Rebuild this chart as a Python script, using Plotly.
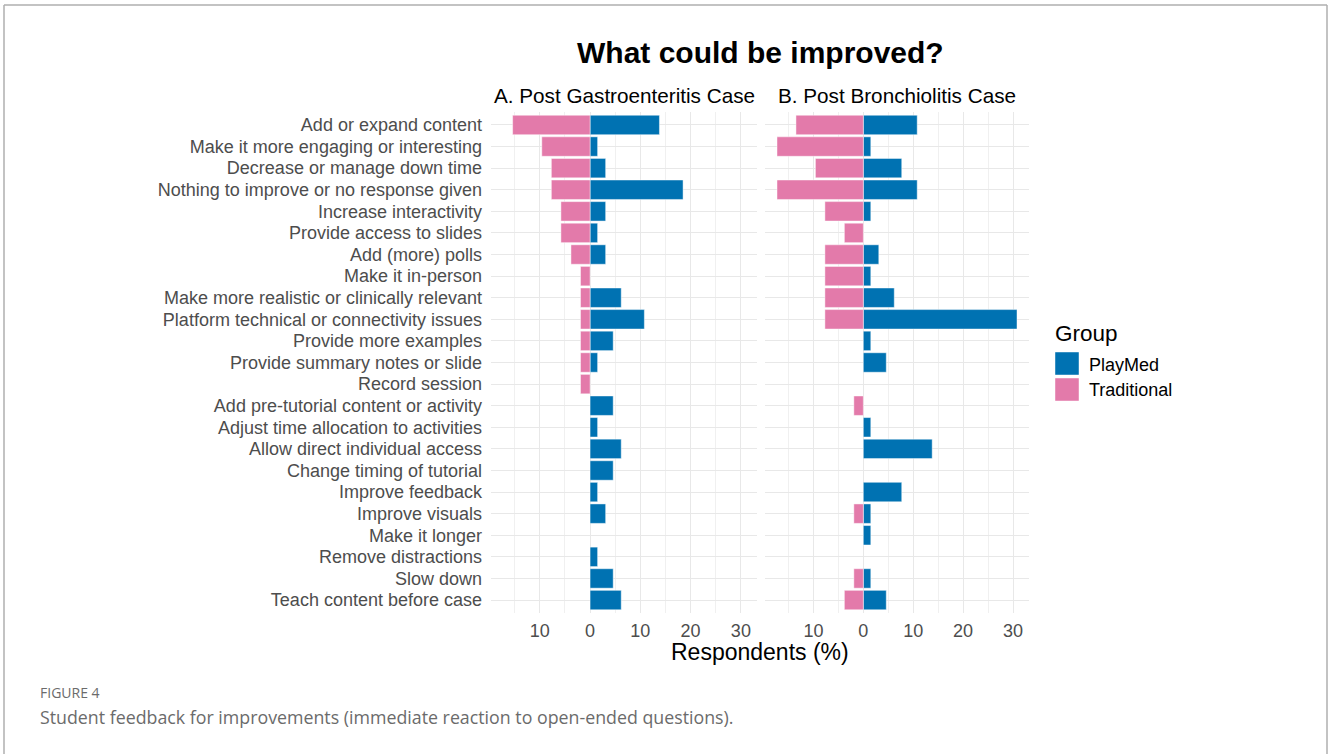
import plotly.graph_objects as go

# Improvement themes, listed top to bottom
categories = [
    "Add or expand content",
    "Make it more engaging or interesting",
    "Decrease or manage down time",
    "Nothing to improve or no response given",
    "Increase interactivity",
    "Provide access to slides",
    "Add (more) polls",
    "Make it in-person",
    "Make more realistic or clinically relevant",
    "Platform technical or connectivity issues",
    "Provide more examples",
    "Provide summary notes or slide",
    "Record session",
    "Add pre-tutorial content or activity",
    "Adjust time allocation to activities",
    "Allow direct individual access",
    "Change timing of tutorial",
    "Improve feedback",
    "Improve visuals",
    "Make it longer",
    "Remove distractions",
    "Slow down",
    "Teach content before case",
]

# Respondents (%) per theme
gastro_playmed = [13.8, 1.5, 3.1, 18.5, 3.1, 1.5, 3.1, 0, 6.2, 10.8, 4.6, 1.5, 0,
                  4.6, 1.5, 6.2, 4.6, 1.5, 3.1, 0, 1.5, 4.6, 6.2]
gastro_traditional = [15.4, 9.6, 7.7, 7.7, 5.8, 5.8, 3.8, 1.9, 1.9, 1.9, 1.9, 1.9, 1.9,
                      0, 0, 0, 0, 0, 0, 0, 0, 0, 0]
bronch_playmed = [10.8, 1.5, 7.7, 10.8, 1.5, 0, 3.1, 1.5, 6.2, 30.8, 1.5, 4.6, 0,
                  0, 1.5, 13.8, 0, 7.7, 1.5, 1.5, 0, 1.5, 4.6]
bronch_traditional = [13.5, 17.3, 9.6, 17.3, 7.7, 3.8, 7.7, 7.7, 7.7, 7.7, 0, 0, 0,
                      1.9, 0, 0, 0, 0, 1.9, 0, 0, 1.9, 3.8]

panel_titles = ["A. Post Gastroenteritis Case", "B. Post Bronchiolitis Case"]
x_tick_values = [-10, 0, 10, 20, 30]
x_tick_labels = ["10", "0", "10", "20", "30"]
groups = ["PlayMed", "Traditional"]

BLUE = "#0072B2"
PINK = "#E37AAA"
W, H = 1328, 754
FONT = "Liberation Sans, Arial, sans-serif"
CAPTION_FONT = "Open Sans, sans-serif"


def px(x):
    return x / W


def py(y):
    return 1 - y / H


def nz(vals, sign=1):
    return [sign * v if v else None for v in vals]


fig = go.Figure()

panels = [
    ("x", "y", gastro_playmed, gastro_traditional),
    ("x2", "y2", bronch_playmed, bronch_traditional),
]
for xa, ya, pm, tr in panels:
    fig.add_trace(go.Bar(
        y=categories, x=nz(pm), orientation="h", name=groups[0],
        marker=dict(color=BLUE, line=dict(color="rgba(255,255,255,0.45)", width=1)),
        width=0.9, xaxis=xa, yaxis=ya, showlegend=False,
    ))
    fig.add_trace(go.Bar(
        y=categories, x=nz(tr, -1), orientation="h", name=groups[1],
        marker=dict(color=PINK, line=dict(color="rgba(255,255,255,0.45)", width=1)),
        width=0.9, xaxis=xa, yaxis=ya, showlegend=False,
    ))

# shared x scale with 5% expansion around the data
all_vals = [v for v in gastro_playmed + bronch_playmed] + \
           [-v for v in gastro_traditional + bronch_traditional]
lo, hi = min(all_vals), max(all_vals)
pad = (hi - lo) * 0.05
x_range = [lo - pad, hi + pad]

grid = "#E8E8E8"
xaxis_common = dict(
    range=x_range, tickmode="array", tickvals=x_tick_values, ticktext=x_tick_labels,
    showgrid=True, gridcolor=grid, gridwidth=1.2, zeroline=False,
    showline=False, ticks="", ticklabelstandoff=5,
    tickfont=dict(family=FONT, size=18, color="#4D4D4D"),
    minor=dict(tickvals=[-15, -5, 5, 15, 25], showgrid=True,
               gridcolor="#F0F0F0", gridwidth=0.8),
    fixedrange=True,
)
yaxis_common = dict(
    categoryorder="array", categoryarray=categories,
    tickmode="array", tickvals=categories, ticktext=categories,
    range=[len(categories) - 0.4, -0.6],
    showgrid=True, gridcolor=grid, gridwidth=1.2, zeroline=False,
    showline=False, ticks="", fixedrange=True,
)

y_dom = [py(613), py(112)]
fig.update_layout(
    width=W, height=H,
    margin=dict(l=0, r=0, t=0, b=0),
    paper_bgcolor="white", plot_bgcolor="white",
    barmode="relative", bargap=0.1,
    font=dict(family=FONT),
    xaxis=dict(domain=[px(491), px(757)], anchor="y", **xaxis_common),
    xaxis2=dict(domain=[px(765), px(1029)], anchor="y2", **xaxis_common),
    yaxis=dict(domain=y_dom, anchor="x", showticklabels=True, ticklabelstandoff=8,
               tickfont=dict(family=FONT, size=18, color="#4D4D4D"), **yaxis_common),
    yaxis2=dict(domain=y_dom, anchor="x2", showticklabels=False, **yaxis_common),
    showlegend=False,
)

annotations = [
    dict(text="<b>What could be improved?</b>", x=px(760), y=py(52),
         font=dict(family=FONT, size=30, color="black")),
    dict(text=panel_titles[0], x=px(624), y=py(96),
         font=dict(family=FONT, size=20.7, color="black")),
    dict(text=panel_titles[1], x=px(897), y=py(96),
         font=dict(family=FONT, size=20.7, color="black")),
    dict(text="Respondents (%)", x=px(760), y=py(652),
         font=dict(family=FONT, size=23, color="black")),
    dict(text="Group", x=px(1053), y=py(333), xanchor="left",
         font=dict(family=FONT, size=22.5, color="black")),
    dict(text=groups[0], x=px(1087), y=py(365), xanchor="left",
         font=dict(family=FONT, size=18, color="black")),
    dict(text=groups[1], x=px(1087), y=py(390), xanchor="left",
         font=dict(family=FONT, size=18, color="black")),
    dict(text="FIGURE 4", x=px(38), y=py(692), xanchor="left",
         font=dict(family=CAPTION_FONT, size=14, color="#6B6B6B")),
    dict(text="Student feedback for improvements (immediate reaction to open-ended questions).",
         x=px(38), y=py(717), xanchor="left",
         font=dict(family=CAPTION_FONT, size=17.8, color="#6B6B6B")),
]
for a in annotations:
    a.setdefault("xanchor", "center")
    fig.add_annotation(xref="paper", yref="paper", yanchor="middle",
                       showarrow=False, **a)

shapes = [
    # legend keys
    dict(type="rect", x0=px(1055), x1=px(1079), y0=py(375), y1=py(352),
         fillcolor=BLUE, line=dict(color="rgba(255,255,255,0.45)", width=1)),
    dict(type="rect", x0=px(1055), x1=px(1079), y0=py(401), y1=py(378),
         fillcolor=PINK, line=dict(color="rgba(255,255,255,0.45)", width=1)),
    # figure frame
    dict(type="line", x0=px(4), x1=px(1327), y0=py(5), y1=py(5),
         line=dict(color="#AFAFAF", width=1.5)),
    dict(type="line", x0=px(4), x1=px(4), y0=py(5), y1=py(754),
         line=dict(color="#AFAFAF", width=1.5)),
    dict(type="line", x0=px(1327), x1=px(1327), y0=py(5), y1=py(754),
         line=dict(color="#AFAFAF", width=1.5)),
]
for s in shapes:
    fig.add_shape(xref="paper", yref="paper", layer="above", **s)

fig.write_html("out.html")
